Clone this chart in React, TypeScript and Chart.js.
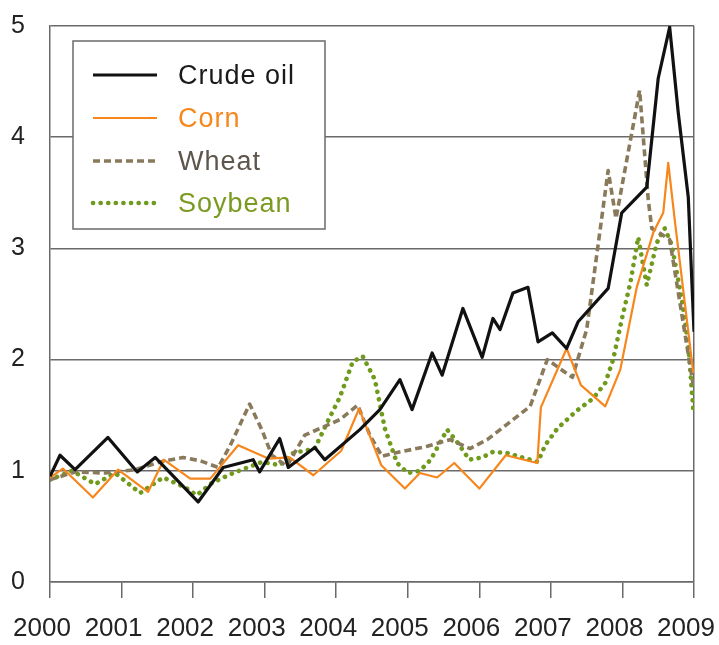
import React, { useEffect, useRef } from "react";
import { Chart, registerables } from "chart.js";

Chart.register(...registerables);

// ---- Data (decimal years, index relative to 2000 = 1) ----
const crudeYears = [2000.0, 2000.14, 2000.35, 2000.81, 2001.22, 2001.47, 2002.07, 2002.42, 2002.84, 2002.93, 2003.21, 2003.33, 2003.7, 2003.84, 2004.33, 2004.61, 2004.89, 2005.06, 2005.34, 2005.48, 2005.77, 2006.04, 2006.19, 2006.29, 2006.47, 2006.68, 2006.82, 2007.02, 2007.22, 2007.38, 2007.8, 2007.99, 2008.34, 2008.5, 2008.66, 2008.78, 2008.92, 2009.0];
const crudeValues = [0.95, 1.14, 1.01, 1.3, 0.99, 1.12, 0.72, 1.03, 1.1, 0.99, 1.29, 1.03, 1.21, 1.1, 1.37, 1.55, 1.82, 1.55, 2.06, 1.86, 2.46, 2.02, 2.37, 2.27, 2.6, 2.65, 2.16, 2.24, 2.1, 2.34, 2.64, 3.32, 3.55, 4.53, 4.99, 4.22, 3.46, 2.25];

const cornYears = [2000.0, 2000.18, 2000.6, 2000.95, 2001.37, 2001.59, 2001.96, 2002.24, 2002.63, 2003.05, 2003.35, 2003.68, 2004.07, 2004.32, 2004.63, 2004.96, 2005.17, 2005.41, 2005.65, 2006.0, 2006.37, 2006.81, 2006.86, 2007.22, 2007.42, 2007.76, 2007.97, 2008.2, 2008.43, 2008.57, 2008.64, 2008.73, 2008.99];
const cornValues = [0.94, 1.02, 0.76, 1.01, 0.81, 1.1, 0.93, 0.93, 1.23, 1.11, 1.12, 0.96, 1.18, 1.56, 1.05, 0.84, 0.98, 0.94, 1.07, 0.84, 1.14, 1.07, 1.57, 2.1, 1.77, 1.58, 1.91, 2.65, 3.14, 3.32, 3.77, 3.26, 1.88];

const wheatYears = [2000.0, 2000.35, 2000.77, 2001.19, 2001.54, 2001.86, 2002.1, 2002.35, 2002.52, 2002.79, 2002.96, 2003.1, 2003.31, 2003.56, 2003.77, 2004.05, 2004.3, 2004.47, 2004.64, 2004.82, 2005.27, 2005.59, 2005.87, 2006.11, 2006.43, 2006.71, 2006.95, 2007.3, 2007.5, 2007.8, 2007.91, 2008.24, 2008.36, 2008.41, 2008.66, 2008.99];
const wheatValues = [0.92, 0.99, 0.98, 1.01, 1.08, 1.12, 1.09, 1.03, 1.23, 1.6, 1.37, 1.14, 1.04, 1.32, 1.38, 1.46, 1.59, 1.32, 1.13, 1.16, 1.22, 1.28, 1.2, 1.28, 1.44, 1.58, 2.0, 1.84, 2.27, 3.7, 3.27, 4.42, 3.44, 3.18, 3.08, 1.77];

const soyYears = [2000.0, 2000.31, 2000.63, 2000.91, 2001.26, 2001.58, 2001.89, 2002.05, 2002.26, 2002.56, 2002.96, 2003.21, 2003.4, 2003.7, 2003.87, 2004.05, 2004.23, 2004.37, 2004.54, 2004.68, 2004.85, 2005.0, 2005.17, 2005.32, 2005.55, 2005.7, 2005.86, 2006.04, 2006.19, 2006.39, 2006.6, 2006.82, 2006.92, 2007.09, 2007.36, 2007.59, 2007.76, 2007.87, 2007.99, 2008.11, 2008.22, 2008.34, 2008.48, 2008.59, 2008.69, 2008.83, 2008.92, 2008.99];
const soyValues = [0.92, 1.0, 0.88, 0.98, 0.8, 0.94, 0.85, 0.78, 0.89, 0.98, 1.08, 1.05, 1.16, 1.2, 1.43, 1.66, 1.98, 2.03, 1.82, 1.38, 1.07, 0.98, 1.0, 1.1, 1.37, 1.25, 1.1, 1.12, 1.17, 1.16, 1.12, 1.08, 1.23, 1.38, 1.54, 1.65, 1.79, 2.0, 2.36, 2.69, 3.1, 2.67, 3.05, 3.18, 3.03, 2.54, 2.13, 1.55];

const seriesNames = ["Crude oil", "Corn", "Wheat", "Soybean"];
const yTicks = [0, 1, 2, 3, 4, 5];
const xTicks = [2000, 2001, 2002, 2003, 2004, 2005, 2006, 2007, 2008, 2009];

// ---- Styles ----
const FONT = "'Liberation Sans', Arial, Helvetica, sans-serif";
const GRID = "#6a6a6a";
const lineColors = ["#111111", "#f7861c", "#8a7a5c", "#6f9a1c"];
const textColors = ["#1a1a1a", "#f7861c", "#5e564c", "#7a9a22"];
const widths = [3.2, 2.2, 3.6, 4.6];
const dashes: number[][] = [[], [], [7, 4], [0.1, 7.5]];
const caps: CanvasLineCap[] = ["butt", "butt", "butt", "round"];

const toPoints = (xs: number[], ys: number[]) => xs.map((x, i) => ({ x, y: ys[i] }));

const legendPlugin = {
  id: "insideLegend",
  afterDraw(chart: any) {
    const ctx = chart.ctx as CanvasRenderingContext2D;
    const bx = 73, by = 41, bw = 252, bh = 188;
    ctx.save();
    ctx.fillStyle = "#ffffff";
    ctx.fillRect(bx, by, bw, bh);
    ctx.strokeStyle = GRID;
    ctx.lineWidth = 1.5;
    ctx.strokeRect(bx, by, bw, bh);
    const baselines = [84, 127, 170, 212];
    seriesNames.forEach((name, i) => {
      const ly = baselines[i] - 9;
      ctx.beginPath();
      ctx.strokeStyle = lineColors[i];
      ctx.lineWidth = widths[i];
      ctx.lineCap = caps[i];
      ctx.setLineDash(dashes[i]);
      ctx.moveTo(93, ly);
      ctx.lineTo(157, ly);
      ctx.stroke();
      ctx.setLineDash([]);
      ctx.fillStyle = textColors[i];
      ctx.font = `27px ${FONT}`;
      (ctx as any).letterSpacing = "1px";
      ctx.textAlign = "left";
      ctx.textBaseline = "alphabetic";
      ctx.fillText(name, 178, baselines[i]);
    });
    ctx.restore();
  },
};

export default function App() {
  const ref = useRef<HTMLCanvasElement | null>(null);

  useEffect(() => {
    if (!ref.current) return;
    const seriesData = [
      toPoints(crudeYears, crudeValues),
      toPoints(cornYears, cornValues),
      toPoints(wheatYears, wheatValues),
      toPoints(soyYears, soyValues),
    ];
    const chart = new Chart(ref.current, {
      type: "line",
      data: {
        datasets: seriesNames.map((name, i) => ({
          label: name,
          data: seriesData[i],
          borderColor: lineColors[i],
          backgroundColor: lineColors[i],
          borderWidth: widths[i],
          borderDash: dashes[i],
          borderCapStyle: caps[i],
          borderJoinStyle: "round",
          pointRadius: 0,
          tension: 0,
          fill: false,
        })),
      },
      options: {
        responsive: false,
        animation: false,
        events: [],
        layout: { padding: { top: 26, right: 25, left: 0, bottom: 0 } },
        plugins: {
          legend: { display: false },
          tooltip: { enabled: false },
          title: { display: false },
        },
        scales: {
          x: {
            type: "linear",
            min: 2000,
            max: 2009,
            afterBuildTicks: (scale: any) => {
              scale.ticks = xTicks.map((v) => ({ value: v }));
            },
            afterFit: (scale: any) => {
              scale.height = 63;
              scale.paddingLeft = 0;
              scale.paddingRight = 0;
            },
            ticks: {
              autoSkip: false,
              maxRotation: 0,
              padding: 15,
              labelOffset: -8,
              color: "#222222",
              font: { family: FONT, size: 26 },
              callback: (v: any) => String(v),
            },
            grid: {
              drawOnChartArea: true,
              color: (c: any) => (c.tick && c.tick.value === 2009 ? GRID : "rgba(0,0,0,0)"),
              tickColor: GRID,
              tickLength: 16,
              lineWidth: 1.5,
            },
            border: { display: true, color: GRID, width: 1.5 },
          },
          y: {
            type: "linear",
            min: 0,
            max: 5,
            afterBuildTicks: (scale: any) => {
              scale.ticks = yTicks.map((v) => ({ value: v }));
            },
            afterFit: (scale: any) => {
              scale.width = 50;
              scale.paddingTop = 0;
              scale.paddingBottom = 0;
            },
            ticks: {
              padding: 25,
              color: "#222222",
              font: { family: FONT, size: 25 },
              callback: (v: any) => String(v),
            },
            grid: {
              color: GRID,
              lineWidth: 1.5,
              drawTicks: false,
            },
            border: { display: true, color: GRID, width: 1.5 },
          },
        },
      },
      plugins: [legendPlugin],
    } as any);
    return () => chart.destroy();
  }, []);

  return (
    <div style={{ position: "absolute", left: 0, top: 0, width: 719, height: 645, background: "#ffffff" }}>
      <canvas ref={ref} width={719} height={645} style={{ display: "block", width: 719, height: 645 }} />
    </div>
  );
}
